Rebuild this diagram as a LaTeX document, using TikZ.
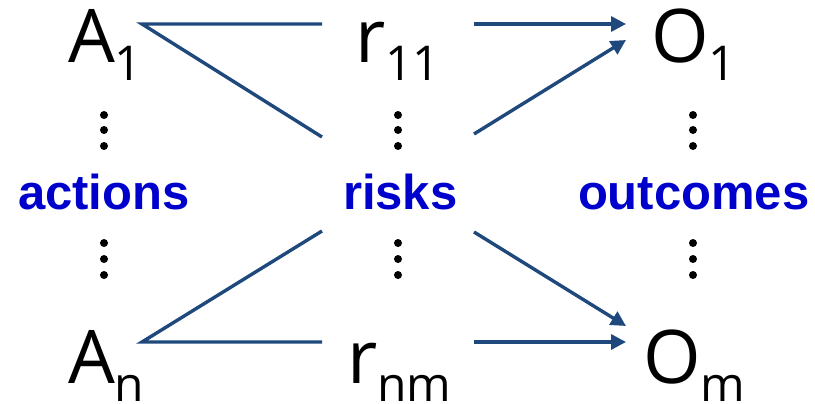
\documentclass[tikz,border=0pt]{standalone}
\usepackage{fontspec}
\newfontfamily\mainf{Open Sans}
\newfontfamily\labf{Liberation Sans}
\usetikzlibrary{arrows.meta}
\definecolor{linecol}{RGB}{31,73,125}
\definecolor{labcol}{RGB}{0,0,204}
\newcommand{\symb}[2]{{\fontsize{74}{80}\selectfont #1}\raisebox{-18pt}{\fontsize{48}{52}\selectfont #2}}
\tikzset{
  sym/.style={anchor=base west, inner sep=0pt, outer sep=0pt, font=\mainf, text=black},
  lab/.style={anchor=base west, inner sep=0pt, outer sep=0pt, font=\labf\bfseries\fontsize{49}{54}\selectfont, text=labcol},
  conn/.style={draw=linecol, line width=3.4pt},
  arr/.style={conn, -{Triangle[length=15pt,width=15pt]}},
  vdot/.style={fill=black, circle, inner sep=0pt, minimum size=8pt}
}
\begin{document}
\begin{tikzpicture}[x=1pt,y=-1pt]
\useasboundingbox (0,0) rectangle (815,404);
% symbols
\node[sym] (A1) at (68,63) {\symb{A}{1}};
\node[sym] (An) at (68,383) {\symb{A}{n}};
\node[sym] (r11) at (355,63) {\symb{r}{11}};
\node[sym] (rnm) at (347,383) {\symb{r}{nm}};
\node[sym] (O1) at (651,63) {\symb{O}{1}};
\node[sym] (Om) at (643,383) {\symb{O}{m}};
% labels
\node[lab] (actions) at (18,209) {actions};
\node[lab] (risks) at (343,209) {risks};
\node[lab] (outcomes) at (578,209) {outcomes};
% dots
\foreach \x/\n in {104/a,398/r,693/o}{
  \foreach \y/\k in {115/1,130/2,146/3,243/4,259/5,275/6}{
    \node[vdot] (d\n\k) at (\x,\y) {};
  }
}
% connector ports
\coordinate (A1p) at (142,24);
\coordinate (Anp) at (142,342);
\coordinate (r11in) at (322,24);
\coordinate (rmid1in) at (322,137);
\coordinate (rmid2in) at (322,231);
\coordinate (rnmin) at (322,342);
\coordinate (r11out) at (474,24);
\coordinate (rmid1out) at (474,134);
\coordinate (rmid2out) at (474,232);
\coordinate (rnmout) at (474,342);
\coordinate (O1in) at (626,24);
\coordinate (O1in2) at (626,40);
\coordinate (Omin2) at (626,326);
\coordinate (Omin) at (626,342);
% connectors
\draw[conn] (r11in) -- (A1p) -- (rmid1in);
\draw[conn] (rmid2in) -- (Anp) -- (rnmin);
\draw[arr] (r11out) -- (O1in);
\draw[arr] (rmid1out) -- (O1in2);
\draw[arr] (rmid2out) -- (Omin2);
\draw[arr] (rnmout) -- (Omin);
\end{tikzpicture}
\end{document}
